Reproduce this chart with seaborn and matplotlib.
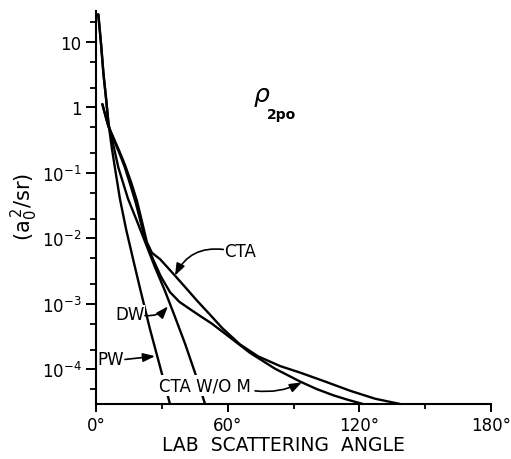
import numpy as np
import pandas as pd
import matplotlib
matplotlib.use("Agg")
import matplotlib.pyplot as plt
from matplotlib.ticker import FixedLocator, NullFormatter, LogLocator
import seaborn as sns

# Lab scattering angle (degrees) and differential cross section (a0^2/sr)
pw_angle = [1.05, 2.3, 3.4, 4.6, 5.7, 7.3, 8.7, 10.9, 13.7, 16.9, 20.1, 24.6, 28.7, 33.7]
pw_value = [26.3, 9.3, 3.24, 1.35, 0.56, 0.229, 0.115, 0.040, 0.0138, 4.8e-3,
            1.7e-3, 4.1e-4, 1.26e-4, 2.95e-5]

dw_angle = [1.05, 2.3, 3.4, 4.6, 5.7, 8.2, 10.2, 14.6, 18.7, 22.8, 26.9, 31.4,
            36.0, 40.6, 45.4, 49.7]
dw_value = [26.3, 9.3, 3.24, 1.35, 0.56, 0.24, 0.12, 0.040, 0.0182, 8.1e-3,
            3.6e-3, 1.58e-3, 6.3e-4, 2.45e-4, 8.3e-5, 2.95e-5]

cta_angle = [2.9, 4.1, 5.6, 8.2, 10.9, 13.2, 16.0, 18.6, 21.0, 23.2, 25.5, 29.2,
             36.0, 41.0, 46.0, 52.0, 57.4, 65.6, 73.8, 83.9, 93.0, 104.4, 115.8,
             127.2, 138.6]
cta_value = [1.12, 0.79, 0.52, 0.33, 0.204, 0.132, 0.072, 0.038, 0.0178, 8.7e-3,
             6.0e-3, 4.8e-3, 2.69e-3, 1.74e-3, 1.12e-3, 6.8e-4, 4.3e-4, 2.40e-4,
             1.58e-4, 1.12e-4, 8.9e-5, 6.5e-5, 4.7e-5, 3.55e-5, 2.95e-5]

ctanm_angle = [2.9, 4.1, 5.6, 8.2, 10.9, 13.0, 15.5, 18.0, 20.5, 22.8, 26.1, 29.5,
               33.7, 38.0, 42.8, 47.5, 52.7, 57.4, 65.6, 70.2, 81.6, 93.0, 100.5,
               108.2, 115.0, 121.7]
ctanm_value = [1.12, 0.79, 0.52, 0.316, 0.19, 0.125, 0.068, 0.036, 0.0170, 8.5e-3,
               4.7e-3, 2.63e-3, 1.51e-3, 1.07e-3, 8.3e-4, 6.5e-4, 5.0e-4, 3.8e-4,
               2.34e-4, 1.78e-4, 1.02e-4, 6.5e-5, 5.0e-5, 4.0e-5, 3.4e-5, 2.95e-5]

curve_names = ["PW", "DW", "CTA", "CTA W/O M"]

y_major = [1e-4, 1e-3, 1e-2, 1e-1, 1, 10]
y_major_labels = ["$10^{-4}$", "$10^{-3}$", "$10^{-2}$", "$10^{-1}$", "1", "10"]
x_major = [0, 60, 120, 180]
x_major_labels = ["0°", "60°", "120°", "180°"]
x_minor = [30, 90, 150]

frames = []
for name, a, v in zip(curve_names,
                      [pw_angle, dw_angle, cta_angle, ctanm_angle],
                      [pw_value, dw_value, cta_value, ctanm_value]):
    frames.append(pd.DataFrame({"angle": a, "value": v, "curve": name}))
df = pd.concat(frames, ignore_index=True)

sns.set_theme(style="ticks")
plt.rcParams["font.family"] = ["DejaVu Sans"]
plt.rcParams["mathtext.fontset"] = "dejavusans"
plt.rcParams["mathtext.default"] = "regular"
plt.rcParams["text.color"] = "black"
plt.rcParams["axes.labelcolor"] = "black"

fig = plt.figure(figsize=(5.11, 4.60), dpi=100)
W, H = 511, 460
ax = fig.add_axes([96 / W, 1 - 405 / H, 395 / W, (405 - 11.7) / H])

sns.lineplot(data=df, x="angle", y="value", hue="curve", units="curve",
             estimator=None, sort=False, palette=["black"] * 4, legend=False,
             linewidth=1.7, ax=ax, zorder=2)

ax.set_yscale("log")
ax.set_xlim(0, 180)
ax.set_ylim(2.95e-5, 29.9)

for side in ["top", "right"]:
    ax.spines[side].set_visible(False)
for side in ["left", "bottom"]:
    ax.spines[side].set_linewidth(1.5)
    ax.spines[side].set_color("black")

ax.yaxis.set_major_locator(FixedLocator(y_major))
ax.set_yticklabels(y_major_labels)
ax.yaxis.set_minor_locator(LogLocator(base=10, subs=[2.0, 5.0]))
ax.yaxis.set_minor_formatter(NullFormatter())
ax.set_xticks(x_major)
ax.set_xticklabels(x_major_labels)
ax.xaxis.set_minor_locator(FixedLocator(x_minor))

ax.tick_params(axis="y", which="major", direction="out", length=7.5, width=1.4,
               pad=3, labelsize=12, colors="black")
ax.tick_params(axis="y", which="minor", direction="out", length=4.5, width=1.3,
               colors="black")
ax.tick_params(axis="x", which="major", direction="out", length=6, width=1.4,
               pad=2.5, labelsize=12, colors="black")
ax.tick_params(axis="x", which="minor", direction="out", length=3.5, width=1.3,
               colors="black")

ax.set_xlabel("LAB  SCATTERING  ANGLE", fontsize=13.5)
ax.xaxis.set_label_coords((283.5 - 96) / 395, (405 - 436) / 393.3)
ax.set_ylabel("(a$_0^{\\,2}$/sr)", fontsize=15)
ax.yaxis.set_label_coords((40 - 96) / 395, 0.505)

# state label
fig.text(262 / W, 1 - 95 / H, "ρ", fontsize=18, style="italic", ha="center", va="center")
fig.text(282 / W, 1 - 115 / H, "2po", fontsize=10, fontweight="bold", ha="center", va="center")

arrow = dict(arrowstyle="-|>,head_length=0.6,head_width=0.22", color="black",
             lw=1.2, shrinkA=0, shrinkB=0)

# curve labels with pointer arrows
ax.text(58.6, 10 ** -2.19, "CTA", fontsize=12, ha="left", va="center", zorder=4)
ax.annotate("", xy=(36.0, 10 ** -2.57), xytext=(58.0, 10 ** -2.17),
            arrowprops=dict(arrow, connectionstyle="arc3,rad=0.35"), zorder=4)

ax.text(22.0, 10 ** -3.16, "DW", fontsize=12, ha="right", va="center", zorder=4,
        bbox=dict(facecolor="white", edgecolor="none", pad=0.5))
ax.annotate("", xy=(32.8, 10 ** -3.04), xytext=(22.3, 10 ** -3.18),
            arrowprops=dict(arrow, connectionstyle="arc3,rad=0.25"), zorder=4)

ax.text(12.8, 10 ** -3.84, "PW", fontsize=12, ha="right", va="center", zorder=4)
ax.annotate("", xy=(26.9, 10 ** -3.80), xytext=(13.2, 10 ** -3.85),
            arrowprops=dict(arrow, connectionstyle="arc3,rad=0"), zorder=4)

ax.text(70.5, 10 ** -4.25, "CTA W/O M", fontsize=12, ha="right", va="center", zorder=4,
        bbox=dict(facecolor="white", edgecolor="none", pad=1.0))
ax.annotate("", xy=(93.8, 10 ** -4.20), xytext=(72.5, 10 ** -4.33),
            arrowprops=dict(arrow, connectionstyle="arc3,rad=0.15"), zorder=4)

fig.savefig("out.png", dpi=100, facecolor="white")
